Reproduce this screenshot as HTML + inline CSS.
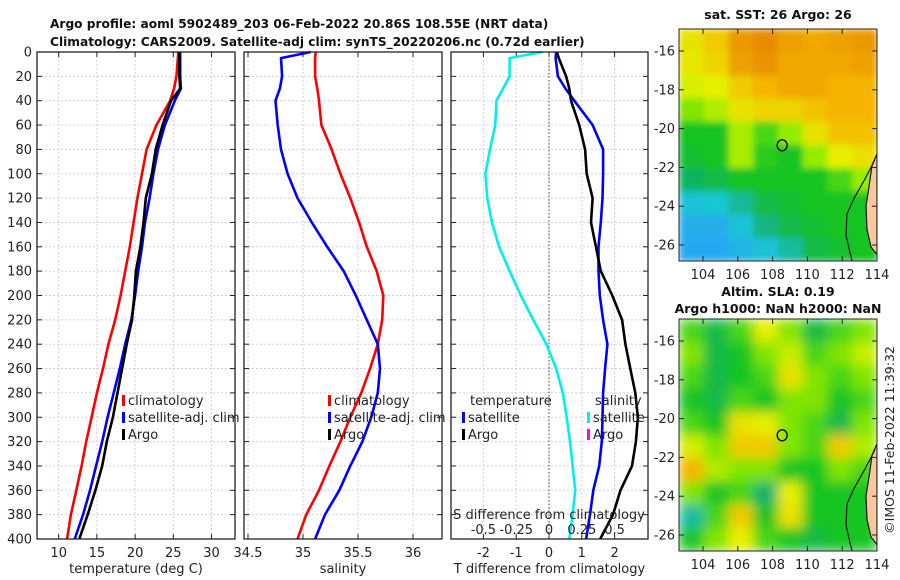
<!DOCTYPE html>
<html><head><meta charset="utf-8">
<style>
body{margin:0;background:#fff;}
svg{display:block;font-family:"DejaVu Sans","Liberation Sans",sans-serif;}
</style></head>
<body>
<svg id="chart" width="900" height="580" viewBox="0 0 900 580" xmlns="http://www.w3.org/2000/svg">
<defs>
<filter id="blur" x="-5%" y="-5%" width="110%" height="110%"><feGaussianBlur stdDeviation="3.5" edgeMode="duplicate"/></filter>
<filter id="blur2" x="-5%" y="-5%" width="110%" height="110%"><feGaussianBlur stdDeviation="6" edgeMode="duplicate"/></filter>
<clipPath id="clipA"><rect x="679" y="29" width="198" height="232"/></clipPath>
<clipPath id="clipB"><rect x="679" y="319" width="198" height="232"/></clipPath>
</defs>
<g font-weight="bold" font-size="12.2" fill="#111">
<text x="50" y="28">Argo profile: aoml 5902489_203 06-Feb-2022 20.86S 108.55E (NRT data)</text>
<text x="50" y="46">Climatology: CARS2009. Satellite-adj clim: synTS_20220206.nc (0.72d earlier)</text>
</g>
<g id="panels"></g>
<g id="maps"></g>
<text transform="translate(894,440) rotate(-90)" text-anchor="middle" font-size="12.5" fill="#222">©IMOS 11-Feb-2022 11:39:32</text>
</svg>
<script>
const depths=[0,5,20,30,40,60,80,100,120,140,160,180,200,220,240,260,280,300,320,340,360,380,400];
const tClim=[25.65,25.6,25.4,25.1,24.6,22.8,21.5,20.9,20.3,19.8,19.3,18.7,18.1,17.4,16.5,15.8,15.0,14.3,13.6,13.0,12.3,11.6,11.1];
const tSat=[25.9,25.9,25.9,26.0,25.2,23.9,23.0,22.4,21.9,21.3,20.9,20.4,20.0,19.5,18.7,18.0,17.2,16.4,15.7,14.9,14.1,13.2,12.1];
const tArgo=[25.8,25.8,25.8,25.9,24.7,23.6,22.7,22.2,21.4,21.1,20.7,20.1,19.9,19.6,18.9,18.3,17.7,17.1,16.3,15.7,14.8,13.8,12.7];
const sClim=[35.115,35.11,35.11,35.13,35.145,35.167,35.26,35.34,35.43,35.51,35.58,35.67,35.73,35.72,35.68,35.61,35.53,35.43,35.34,35.24,35.145,35.03,34.95];
const sSat=[35.07,34.8,34.81,34.79,34.75,34.77,34.8,34.86,34.95,35.08,35.22,35.37,35.48,35.58,35.68,35.7,35.68,35.62,35.54,35.43,35.33,35.2,35.11];
const tDiffSat=[0.22,0.2,0.27,0.5,0.77,1.33,1.65,1.65,1.63,1.58,1.51,1.51,1.55,1.65,1.78,1.71,1.65,1.63,1.61,1.53,1.35,1.25,1.13];
const tDiffArgo=[0.24,0.3,0.52,0.62,0.67,0.92,1.1,1.15,1.33,1.28,1.43,1.58,1.93,2.23,2.33,2.48,2.63,2.71,2.65,2.53,2.18,1.95,1.56];
const sDiffSat=[-0.05,-0.3,-0.3,-0.35,-0.4,-0.41,-0.45,-0.485,-0.47,-0.435,-0.38,-0.3,-0.215,-0.12,-0.02,0.055,0.105,0.135,0.16,0.18,0.2,0.18,0.155];
const depthTicks=[0,20,40,60,80,100,120,140,160,180,200,220,240,260,280,300,320,340,360,380,400];
const tTicks=[10,15,20,25,30];
const sTicks=[34.5,35,35.5,36];
const dTicks=[-2,-1,0,1,2];
const sdTicks=[-0.5,-0.25,0,0.25,0.5];
const sdTickLabels=["-0.5","-0.25","0","0.25","0.5"];
const lonTicks=[104,106,108,110,112,114];
const latTicks=[-16,-18,-20,-22,-24,-26];
const sstGrid=[
[0.75,0.8,0.92,0.95,0.9,0.88,0.9,0.92],
[0.74,0.78,0.9,0.93,0.88,0.88,0.88,0.9],
[0.7,0.72,0.8,0.85,0.88,0.88,0.85,0.85],
[0.6,0.65,0.75,0.78,0.78,0.82,0.85,0.85],
[0.5,0.5,0.64,0.55,0.62,0.75,0.82,0.82],
[0.48,0.5,0.64,0.52,0.5,0.62,0.72,0.76],
[0.42,0.45,0.5,0.5,0.5,0.5,0.55,0.62],
[0.28,0.3,0.36,0.45,0.48,0.5,0.5,0.5],
[0.22,0.22,0.28,0.38,0.45,0.48,0.5,0.5],
[0.2,0.2,0.24,0.28,0.35,0.45,0.48,0.5]];
const slaGrid=[
[0.55,0.45,0.55,0.72,0.6,0.45,0.55,0.6],
[0.6,0.45,0.5,0.6,0.68,0.55,0.6,0.68],
[0.55,0.45,0.5,0.55,0.75,0.6,0.55,0.6],
[0.5,0.45,0.55,0.5,0.6,0.6,0.5,0.55],
[0.55,0.5,0.75,0.72,0.6,0.55,0.45,0.6],
[0.7,0.6,0.8,0.8,0.6,0.55,0.8,0.65],
[0.85,0.65,0.6,0.6,0.5,0.5,0.6,0.55],
[0.6,0.5,0.55,0.4,0.72,0.5,0.5,0.5],
[0.35,0.55,0.8,0.5,0.75,0.5,0.5,0.5],
[0.5,0.6,0.72,0.55,0.5,0.45,0.5,0.5]];

const NS="http://www.w3.org/2000/svg";
function el(tag,attrs,parent){const e=document.createElementNS(NS,tag);for(const k in attrs)e.setAttribute(k,attrs[k]);parent.appendChild(e);return e;}
const P=document.getElementById('panels');
const Y0=52,Y1=539;
const yD=d=>Y0+(Y1-Y0)*d/400;
const panels=[
 {name:'temperature-panel',x0:37,x1:235,fx:v=>58.7+(v-10)*7.64,ticks:tTicks,labels:tTicks.map(String),xlabel:'temperature (deg C)'},
 {name:'salinity-panel',x0:244,x1:442,fx:v=>248+(v-34.5)*110,ticks:sTicks,labels:sTicks.map(String),xlabel:'salinity'},
 {name:'difference-panel',x0:451,x1:648,fx:v=>549+v*32.8,ticks:dTicks,labels:dTicks.map(String),xlabel:'T difference from climatology'}
];
panels.forEach((p,pi)=>{
 const g=el('g',{},P);
 
 
 depthTicks.forEach(d=>{
  const l=el('line',{x1:p.x0,x2:p.x1,y1:yD(d),y2:yD(d),stroke:'#c9d0ef','stroke-width':1,'stroke-dasharray':'2,2'},g);
  
  
 });
 p.ticks.forEach(t=>{
  const x=p.fx(t);
  const l=el('line',{x1:x,x2:x,y1:Y0,y2:Y1,stroke:'#e2c8d0','stroke-width':1,'stroke-dasharray':'2,2'},g);
  
  
 });
 depthTicks.forEach(d=>{
  el('line',{x1:p.x0,x2:p.x0+5,y1:yD(d),y2:yD(d),stroke:'#222'},g);
  el('line',{x1:p.x1,x2:p.x1-5,y1:yD(d),y2:yD(d),stroke:'#222'},g);
  if(pi===0){
   const t=el('text',{x:p.x0-5,y:yD(d)+4.5,'text-anchor':'end','font-size':13,fill:'#222'},g);
   t.textContent=d;
   
   
  }
 });
 p.ticks.forEach((v,i)=>{
  const x=p.fx(v);
  el('line',{x1:x,x2:x,y1:Y1,y2:Y1-5,stroke:'#222'},g);
  el('line',{x1:x,x2:x,y1:Y0,y2:Y0+5,stroke:'#222'},g);
  const t=el('text',{x:x,y:557,'text-anchor':'middle','font-size':13,fill:'#222'},g);
  t.textContent=p.labels[i];
  
  
 });
 const xl=el('text',{x:(p.x0+p.x1)/2,y:573,'text-anchor':'middle','font-size':13,fill:'#222'},g);
 xl.textContent=p.xlabel;
 
 
 p.g=g;
});
function line(p,vals,fx,color,name,w){
 const pts=vals.map((v,i)=>fx(v).toFixed(1)+','+yD(depths[i]).toFixed(1)).join(' ');
 const l=el('polyline',{points:pts,fill:'none',stroke:color,'stroke-width':w||2.6,'stroke-linejoin':'round'},p.g);
 
 
}
const pT=panels[0],pS=panels[1],pD=panels[2];
line(pT,tClim,pT.fx,'#ff0000','temp-climatology-line');
line(pT,tSat,pT.fx,'#0000ff','temp-satellite-line');
line(pT,tArgo,pT.fx,'#000','temp-argo-line');
line(pS,sClim,pS.fx,'#ff0000','sal-climatology-line');
line(pS,sSat,pS.fx,'#0000ff','sal-satellite-line');
const zl=el('line',{x1:549,x2:549,y1:Y0,y2:Y1,stroke:'#405030','stroke-width':1,'stroke-dasharray':'1.5,2'},pD.g);


line(pD,sDiffSat,v=>549+v*4*32.8,'#00f0f0','sal-diff-satellite-line');
line(pD,tDiffSat,pD.fx,'#0000ff','temp-diff-satellite-line');
line(pD,tDiffArgo,pD.fx,'#000','temp-diff-argo-line');
const sdl=el('text',{x:549,y:519,'text-anchor':'middle','font-size':13,fill:'#222'},pD.g);
sdl.textContent='S difference from climatology';


sdTicks.forEach((v,i)=>{
 const t=el('text',{x:549+v*4*32.8,y:534,'text-anchor':'middle','font-size':13,fill:'#222'},pD.g);
 t.textContent=sdTickLabels[i];
 
 
});
panels.forEach(p=>{
 const r=el('rect',{x:p.x0,y:Y0,width:p.x1-p.x0,height:Y1-Y0,fill:'none',stroke:'#222','stroke-width':1.3},p.g);
 
 
});
function legendEntry(g,x,y,color,label){
 const grp=el('g',{},g);
 
 
 el('rect',{x:x,y:y-10,width:3,height:11,fill:color},grp);
 const t=el('text',{x:x+6,y:y,'font-size':13,fill:'#222'},grp);
 t.textContent=label;
}
[[pT,122],[pS,328]].forEach(([p,x])=>{
 legendEntry(p.g,x,405,'#ff0000','climatology');
 legendEntry(p.g,x,422,'#0000ff','satellite-adj. clim');
 legendEntry(p.g,x,439,'#000','Argo');
});
const lt=el('text',{x:470,y:405,'font-size':13,fill:'#222'},pD.g);lt.textContent='temperature';


legendEntry(pD.g,462,422,'#0000ff','satellite');
legendEntry(pD.g,462,439,'#000','Argo');
const ls=el('text',{x:595,y:405,'font-size':13,fill:'#222'},pD.g);ls.textContent='salinity';


legendEntry(pD.g,587,422,'#00f0f0','satellite');
legendEntry(pD.g,587,439,'#ff00ff','Argo');

const M=document.getElementById('maps');
const cmapStops=[[0,[0,80,255]],[0.2,[40,168,240]],[0.3,[24,200,208]],[0.4,[16,176,110]],[0.5,[20,196,32]],[0.62,[150,236,0]],[0.72,[230,240,0]],[0.85,[245,180,0]],[1,[225,120,0]]];
function cmap(v){
 for(let i=1;i<cmapStops.length;i++){
  if(v<=cmapStops[i][0]){const a=cmapStops[i-1],b=cmapStops[i];const f=(v-a[0])/(b[0]-a[0]);
   return 'rgb('+a[1].map((c,k)=>Math.round(c+(b[1][k]-c)*f)).join(',')+')';}
 }
 return 'rgb(225,120,0)';
}
const lonX=lon=>703+(lon-104)*17.4;
function drawMap(name,top,grid,titleLines,clip,filt){
 const g=el('g',{},M);
 
 
 const latY=lat=>top+22+(-16-lat)*19.4;
 const gi=el('g',{'clip-path':'url(#'+clip+')'},g);
 const gb=el('g',{filter:'url(#'+filt+')'},gi);
 const rows=grid.length,cols=grid[0].length,cw=198/cols,ch=232/rows;
 grid.forEach((row,r)=>row.forEach((v,c)=>{
  const cell=el('rect',{x:679+c*cw,y:top+r*ch,width:cw+0.6,height:ch+0.6,fill:cmap(v)},gb);
  
  
 }));
 const land=el('polygon',{points:[[877,latY(-21.3)],[872,latY(-21.9)],[869,latY(-23)],[866,latY(-24)],[867,latY(-25.2)],[871,latY(-26.1)],[877,latY(-26.5)]].map(p=>p.join(',')).join(' '),fill:'#f8c89c',stroke:'#111','stroke-width':1.2},gi);
 
 
 const iso=el('polyline',{points:[[875,latY(-21.6)],[865,latY(-22.6)],[854,latY(-23.6)],[847,latY(-24.4)],[846,latY(-25.5)],[850,latY(-26.4)],[853,latY(-27)]].map(p=>p.join(',')).join(' '),fill:'none',stroke:'#111','stroke-width':1.1},gi);
 
 
 const c=el('ellipse',{cx:lonX(108.55),cy:latY(-20.86),rx:5,ry:5.5,fill:'none',stroke:'#000','stroke-width':1.3},g);
 
 
 const fr=el('rect',{x:679,y:top,width:198,height:232,fill:'none',stroke:'#222','stroke-width':1},g);
 
 
 lonTicks.forEach(lo=>{
  const x=lonX(lo);
  el('line',{x1:x,x2:x,y1:top+232,y2:top+227,stroke:'#222'},g);
  el('line',{x1:x,x2:x,y1:top,y2:top+5,stroke:'#222'},g);
  const t=el('text',{x:x,y:top+250,'text-anchor':'middle','font-size':13,fill:'#222'},g);
  t.textContent=lo;
  
  
 });
 latTicks.forEach(la=>{
  const y=latY(la);
  el('line',{x1:679,x2:684,y1:y,y2:y,stroke:'#222'},g);
  el('line',{x1:877,x2:872,y1:y,y2:y,stroke:'#222'},g);
  const t=el('text',{x:675,y:y+4.5,'text-anchor':'end','font-size':13,fill:'#222'},g);
  t.textContent=la;
  
  
 });
 titleLines.forEach(([txt,y])=>{
  const t=el('text',{x:778,y:y,'text-anchor':'middle','font-size':12.5,'font-weight':'bold',fill:'#111'},g);
  t.textContent=txt;
  
  
 });
}
drawMap('sst-map',29,sstGrid,[['sat. SST: 26 Argo: 26',19]],'clipA','blur');
drawMap('sla-map',319,slaGrid,[['Altim. SLA: 0.19',296],['Argo h1000: NaN h2000: NaN',313]],'clipB','blur2');
</script>
</body></html>
